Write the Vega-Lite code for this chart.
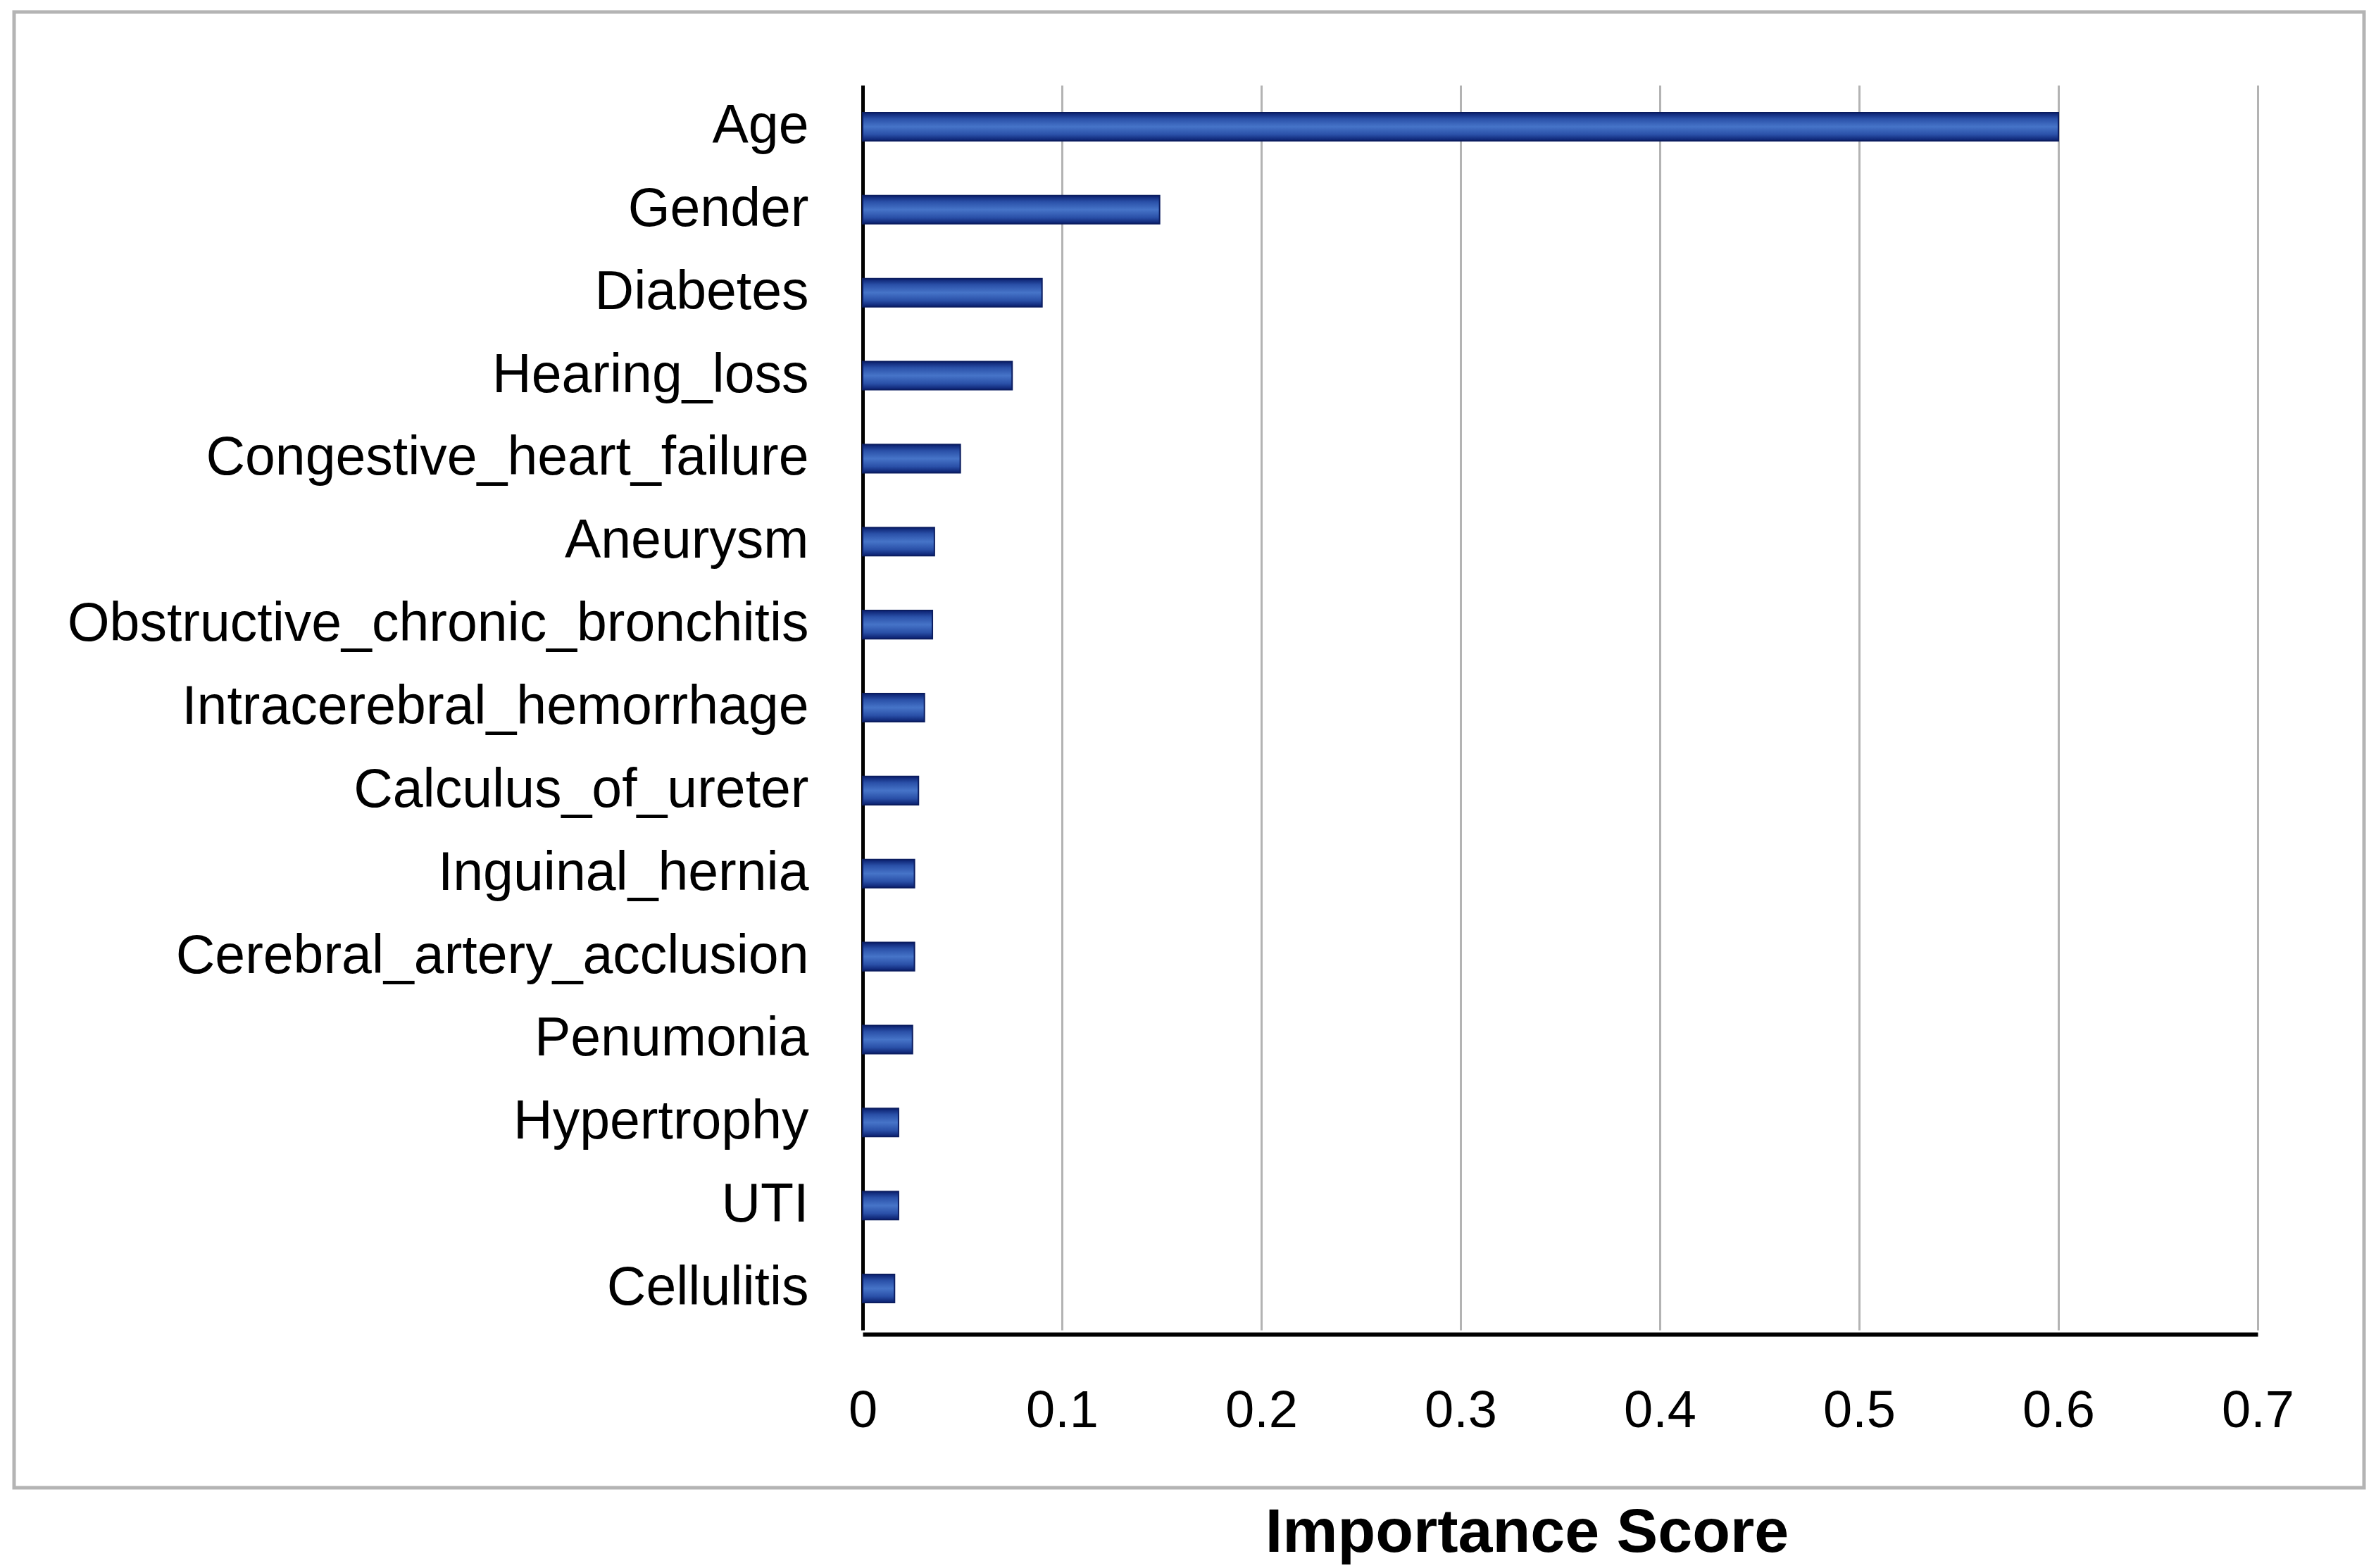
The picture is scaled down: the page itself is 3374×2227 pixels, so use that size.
{
  "$schema": "https://vega.github.io/schema/vega-lite/v6.json",
  "autosize": {"type": "none"},
  "width": 3337,
  "height": 2096,
  "padding": {"left": 20, "top": 17, "right": 17, "bottom": 114},
  "background": "white",
  "data": {
    "values": [
      {"feature": "Age", "importance": 0.6},
      {"feature": "Gender", "importance": 0.149},
      {"feature": "Diabetes", "importance": 0.09},
      {"feature": "Hearing_loss", "importance": 0.075},
      {"feature": "Congestive_heart_failure", "importance": 0.049},
      {"feature": "Aneurysm", "importance": 0.036},
      {"feature": "Obstructive_chronic_bronchitis", "importance": 0.035},
      {"feature": "Intracerebral_hemorrhage", "importance": 0.031},
      {"feature": "Calculus_of_ureter", "importance": 0.028},
      {"feature": "Inguinal_hernia", "importance": 0.026},
      {"feature": "Cerebral_artery_acclusion", "importance": 0.026},
      {"feature": "Penumonia", "importance": 0.025},
      {"feature": "Hypertrophy", "importance": 0.018},
      {"feature": "UTI", "importance": 0.018},
      {"feature": "Cellulitis", "importance": 0.016}
    ]
  },
  "encoding": {
    "y": {
      "field": "feature",
      "type": "nominal",
      "sort": null,
      "scale": {"range": [104, 1872], "paddingInner": 0.66, "paddingOuter": 0.33},
      "axis": {
        "title": null,
        "offset": -1205,
        "ticks": false,
        "labelPadding": 77,
        "labelFont": "Liberation Sans",
        "labelFontSize": 77,
        "labelColor": "black",
        "labelLimit": 0,
        "domainColor": "black",
        "domainWidth": 5,
        "grid": false
      }
    }
  },
  "layer": [
    {
      "mark": {
        "type": "bar",
        "fill": {
          "gradient": "linear",
          "x1": 0, "y1": 0, "x2": 0, "y2": 1,
          "stops": [
            {"offset": 0, "color": "#0a1f6e"},
            {"offset": 0.22, "color": "#2a50a8"},
            {"offset": 0.5, "color": "#4674c8"},
            {"offset": 0.78, "color": "#2a50a8"},
            {"offset": 1, "color": "#0a1f6e"}
          ]
        },
        "stroke": "#0b1d60",
        "strokeWidth": 2
      },
      "encoding": {
        "x": {
          "field": "importance",
          "type": "quantitative",
          "scale": {"domain": [0, 0.7], "range": [1205, 3186], "nice": false},
          "axis": {
            "orient": "top",
            "title": null,
            "values": [0.1, 0.2, 0.3, 0.4, 0.5, 0.6, 0.7],
            "labels": false,
            "ticks": false,
            "domain": false,
            "grid": true,
            "gridColor": "#b3b3b3",
            "gridWidth": 3,
            "gridOpacity": 1
          }
        }
      }
    },
    {
      "mark": {"type": "bar", "opacity": 0},
      "encoding": {
        "x": {
          "field": "importance",
          "type": "quantitative",
          "scale": {"domain": [0, 0.7], "range": [1205, 3186], "nice": false},
          "axis": {
            "orient": "bottom",
            "title": "Importance Score",
            "values": [0, 0.1, 0.2, 0.3, 0.4, 0.5, 0.6, 0.7],
            "format": "~g",
            "offset": -218,
            "ticks": false,
            "grid": false,
            "labelPadding": 73,
            "labelFont": "Liberation Sans",
            "labelFontSize": 74,
            "labelColor": "black",
            "labelFlush": false,
            "labelOverlap": false,
            "domainColor": "black",
            "domainWidth": 6,
            "titleFont": "Liberation Sans",
            "titleFontSize": 88,
            "titleFontWeight": "bold",
            "titleColor": "black",
            "titleX": 2148,
            "titleY": 308,
            "titleAlign": "center",
            "titleBaseline": "alphabetic"
          }
        }
      }
    }
  ],
  "resolve": {"axis": {"x": "independent"}},
  "config": {
    "view": {"stroke": "#b4b4b4", "strokeWidth": 5}
  }
}
